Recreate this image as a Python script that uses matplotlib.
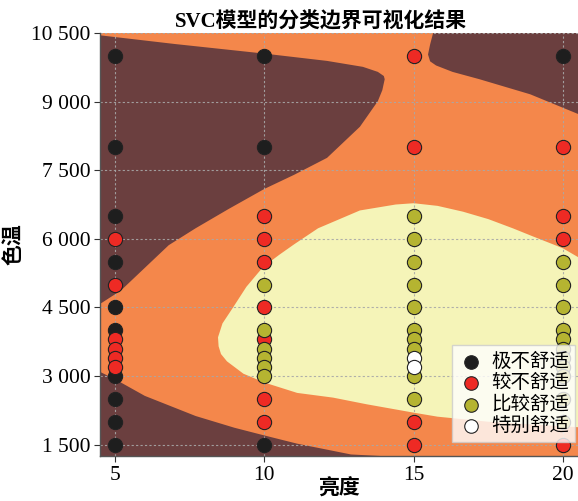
import numpy as np
import matplotlib
matplotlib.use("Agg")
import matplotlib.pyplot as plt
from matplotlib.ticker import FixedLocator, FuncFormatter

# ── PALETTE ────────────────────────────────────────────────
BROWN  = "#6B3F3F"
ORANGE = "#F4874B"
YELLOW = "#F5F4B8"
POINT_COLORS = ["#1E1E1E", "#EE2A24", "#B5B431", "#FFFFFF"]
CLASS_NAMES  = ["极不舒适", "较不舒适", "比较舒适", "特别舒适"]

# ── DATA ───────────────────────────────────────────────────
temps = [10000, 8000, 6500, 6000, 5500, 5000, 4500, 4000,
         3800, 3600, 3400, 3200, 3000, 2500, 2000, 1500]
brightness_levels = [5, 10, 15, 20]
labels_b5  = [0, 0, 0, 1, 0, 1, 0, 0, 1, 1, 1, 1, 0, 0, 0, 0]
labels_b10 = [0, 0, 1, 1, 1, 2, 1, 2, 1, 2, 2, 2, 2, 1, 1, 0]
labels_b15 = [1, 1, 2, 2, 2, 2, 2, 2, 2, 2, 3, 3, 2, 2, 1, 1]
labels_b20 = [0, 1, 1, 1, 2, 2, 2, 2, 2, 2, 2, 2, 2, 2, 2, 1]

# decision-region outlines (brightness, colour temperature)
top_left_x = [4.5, 7.0, 10.0, 12.1, 13.3, 13.8, 14.0, 14.03, 13.95, 13.8, 13.2,
              12.1, 11.0, 10.0, 8.8, 7.7, 6.8, 5.2, 4.56, 4.5]
top_left_y = [10450, 10260, 10050, 9890, 9760, 9650, 9560, 9490, 9250, 9010, 8450,
              7770, 7400, 7090, 6650, 6230, 5860, 4870, 4600, 4580]
top_right_x = [15.65, 15.55, 15.48, 15.55, 15.75, 16.3, 17.2, 18.9, 20.5, 20.5]
top_right_y = [10500, 10250, 10030, 9880, 9790, 9650, 9490, 9160, 8730, 10500]
bottom_left_x = [4.5, 5.0, 6.0, 7.7, 9.0, 10.0, 11.1, 12.9, 13.9, 4.5]
bottom_left_y = [3090, 2930, 2565, 2125, 1868, 1700, 1520, 1284, 1250, 1250]
comfort_x = [20.5, 20.0, 19.66, 19.0, 18.32, 17.5, 16.65, 15.8, 15.0, 14.4,
             13.2, 11.8, 11.0, 10.5, 9.96, 9.4, 8.96, 8.6, 8.45, 8.47,
             8.55, 8.75, 9.3, 10.0, 11.1, 12.3, 13.42, 15.0, 15.8, 17.5, 20.5]
comfort_y = [5600, 5790, 5880, 6050, 6229, 6430, 6593, 6720, 6778, 6750,
             6620, 6230, 5880, 5650, 5385, 4950, 4505, 4150, 3846, 3650,
             3480, 3320, 3050, 2857, 2630, 2527, 2382, 2198, 2110, 2000, 1880]

y_ticks = [1500, 3000, 4500, 6000, 7500, 9000, 10500]
x_ticks = [5, 10, 15, 20]

SERIF = ["Liberation Serif", "Noto Sans CJK SC"]
CJK   = ["Noto Sans CJK SC", "DejaVu Sans"]


def thousands(v, _pos):
    return f"{int(v):,}".replace(",", " ")


fig = plt.figure(figsize=(5.78, 5.01), dpi=100)
ax = fig.add_axes([0.173, 0.0898, 0.827, 0.8443])

# background: decision regions
ax.set_facecolor(ORANGE)
ax.fill(top_left_x, top_left_y, color=BROWN, lw=0, zorder=0)
ax.fill(top_right_x, top_right_y, color=BROWN, lw=0, zorder=0)
ax.fill(bottom_left_x, bottom_left_y, color=BROWN, lw=0, zorder=0)
ax.fill(comfort_x, comfort_y, color=YELLOW, lw=0, zorder=0)

# samples
label_cols = [labels_b5, labels_b10, labels_b15, labels_b20]
xs = np.repeat(brightness_levels, len(temps))
ys = np.tile(temps, len(brightness_levels))
cls = np.concatenate(label_cols)
for k, name in enumerate(CLASS_NAMES):
    m = cls == k
    ax.scatter(xs[m], ys[m], s=105, c=POINT_COLORS[k], edgecolors="#222222",
               linewidths=0.8, label=name, zorder=3)

ax.set_xlim(4.5, 20.5)
ax.set_ylim(1250, 10500)
ax.xaxis.set_major_locator(FixedLocator(x_ticks))
ax.yaxis.set_major_locator(FixedLocator(y_ticks))
ax.yaxis.set_major_formatter(FuncFormatter(thousands))
ax.grid(True, color="#a8a8a8", linestyle=(0, (2, 2)), linewidth=0.8, alpha=0.9)

for lab in ax.get_xticklabels() + ax.get_yticklabels():
    lab.set_family(SERIF)
    lab.set_fontsize(15.5)
ax.tick_params(length=4, width=0.8, color="#333333", pad=3)

for side in ["top", "right"]:
    ax.spines[side].set_visible(False)
for side in ["left", "bottom"]:
    ax.spines[side].set_color("#555555")
    ax.spines[side].set_linewidth(1.0)

ax.set_title("SVC模型的分类边界可视化结果", family=SERIF, fontsize=15,
             fontweight="bold", x=0.462, pad=4)
ax.set_xlabel("亮度", family=CJK, fontsize=15, fontweight="bold")
ax.set_ylabel("色温", family=CJK, fontsize=15, fontweight="bold")
ax.xaxis.set_label_coords(0.5, -0.05)
ax.yaxis.set_label_coords(-0.16, 0.5)

leg = ax.legend(loc="lower right", bbox_to_anchor=(1.015, 0.01),
                prop={"family": CJK, "size": 14}, labelspacing=0.02,
                handletextpad=0.35, borderpad=0.3, fancybox=False,
                edgecolor="#cccccc", framealpha=0.8, handlelength=1.4,
                markerscale=0.95)
leg.set_zorder(5)

fig.savefig("out.png", dpi=100)
